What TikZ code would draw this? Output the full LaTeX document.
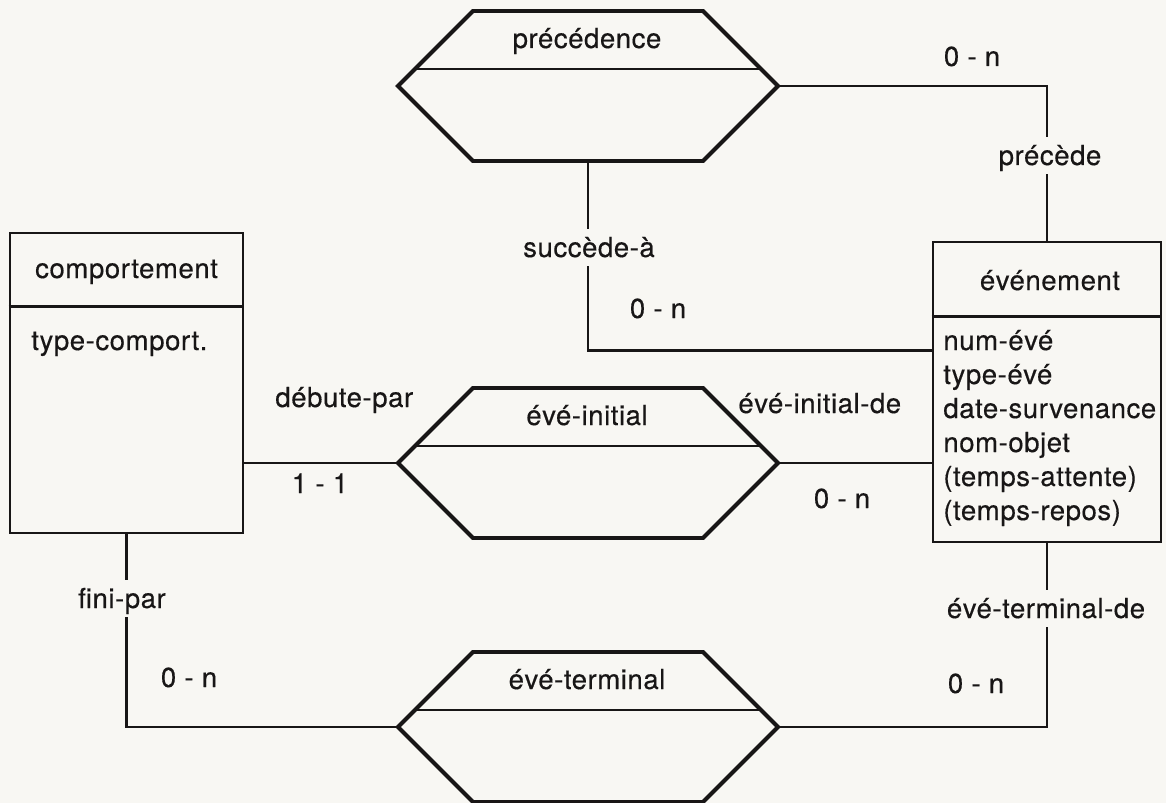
\documentclass[tikz,border=0pt]{standalone}
\usepackage{fontspec}
\setmainfont{TeX Gyre Heros}[LetterSpace=2, FakeBold=0.4]
\usepackage{tikz}
\usetikzlibrary{calc}

\definecolor{paper}{RGB}{248,247,243}
\definecolor{ink}{RGB}{24,22,22}

\tikzset{
  entity/.style={draw=ink, line width=1pt, inner sep=0pt},
  hexa/.style={draw=ink, line width=1.4pt},
  midline/.style={draw=ink, line width=1pt},
  conn/.style={draw=ink, line width=0.95pt},
  lbl/.style={text=ink, inner sep=1pt, anchor=base, font=\fontsize{9.8}{12}\selectfont},
  cut/.style={lbl, fill=paper, inner ysep=1.9pt, text height=8pt, text depth=1.4pt}
}

\begin{document}
\begin{tikzpicture}[x=0.125mm, y=-0.125mm]
\path[use as bounding box, fill=paper] (0,0) rectangle (1166,803);

% entities
\node[entity, minimum width=29.125mm, minimum height=37.5mm] (comp) at (126.5,383) {};
\draw[entity] ($(comp.north west)+(0,75)$) -- ($(comp.north east)+(0,75)$);
\node[lbl] (comp-name) at (126.5,278) {comportement};
\node[lbl, anchor=base west] (comp-attr) at (28,350) {type-comport.};

\node[entity, minimum width=28.5mm, minimum height=37.5mm] (even) at (1047,392) {};
\draw[entity] ($(even.north west)+(0,76)$) -- ($(even.north east)+(0,76)$);
\node[lbl] (even-name) at (1050,290) {événement};
\foreach \a [count=\i] in {num-évé, type-évé, date-survenance, nom-objet,
    {(temps-attente)}, {(temps-repos)}}
  \node[lbl, anchor=base west] (even-attr\i) at (940,316+34*\i) {\a};

% relations
\foreach \n/\y/\t in {prec/86/précédence, init/463/évé-initial, term/727/évé-terminal}{
  \draw[hexa] (398,\y) coordinate (\n-w) -- (473,\y-75) -- (703,\y-75)
    -- (778,\y) coordinate (\n-e) -- (703,\y+75) -- (473,\y+75) -- cycle;
  \coordinate (\n-s) at (588,\y+75);
  \draw[midline] (415,\y-17) -- (761,\y-17);
  \node[lbl] (\n-name) at (587,\y-38) {\t};
}

% links
\draw[conn] (prec-e) -| (even.north);
\draw[conn] (prec-s) |- ($(even.north west)+(0,110)$);
\draw[conn] (comp.east |- init-w) -- (init-w);
\draw[conn] (init-e) -- (init-e -| even.west);
\draw[conn] (comp.south) |- (term-w);
\draw[conn] (even.south) |- (term-e);

% roles and cardinalities
\node[cut] (r-precede) at (1050,165) {précède};
\node[lbl] (c-precede) at (972,66) {0 - n};
\node[cut] (r-succede) at (589,257) {succède-à};
\node[lbl] (c-succede) at (658,318) {0 - n};
\node[lbl, anchor=base west] (r-debute) at (272,407) {débute-par};
\node[lbl] (c-debute) at (320,493) {1 - 1};
\node[lbl, anchor=base west] (r-initde) at (735,413) {évé-initial-de};
\node[lbl] (c-initde) at (842,508) {0 - n};
\node[cut] (r-fini) at (122,608) {fini-par};
\node[lbl] (c-fini) at (189,687) {0 - n};
\node[cut] (r-termde) at (1046,618) {évé-terminal-de};
\node[lbl] (c-termde) at (976,693) {0 - n};
\end{tikzpicture}
\end{document}
